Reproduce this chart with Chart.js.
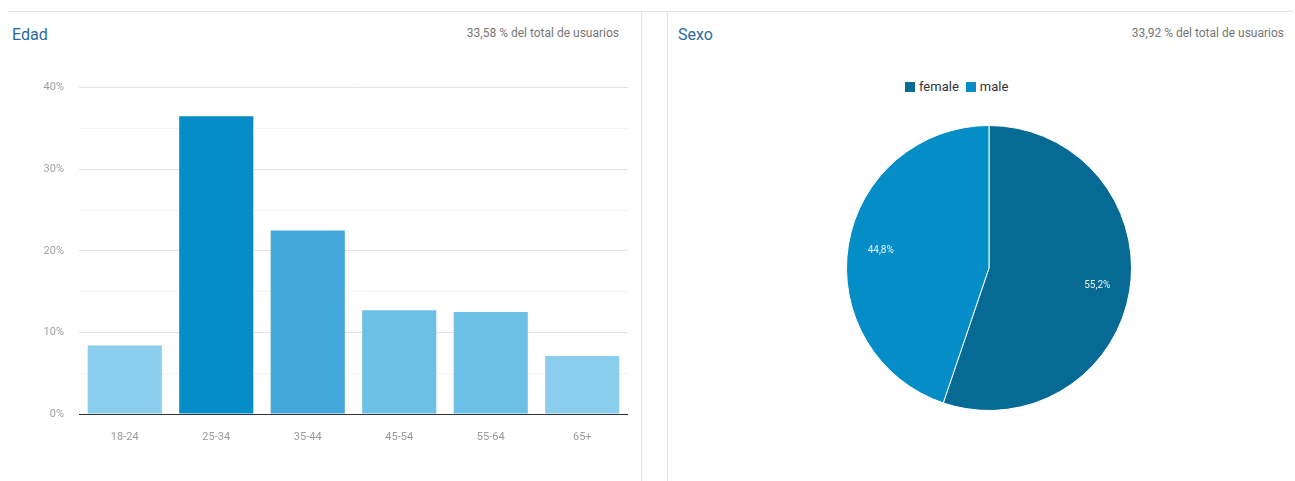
<!DOCTYPE html>
<html>
<head>
<meta charset="utf-8">
<script src="https://cdn.jsdelivr.net/npm/chart.js@4/dist/chart.umd.min.js"></script>
<style>
  body { margin: 0; background: #fff; font-family: Roboto, "Noto Sans", sans-serif; }
  #page { position: relative; width: 1295px; height: 481px; overflow: hidden; }
  .rule-h { position: absolute; left: 9px; top: 11px; width: 1284px; height: 1px; background: #e3e3e3; }
  .rule-v { position: absolute; top: 11px; width: 1px; height: 470px; background: #e3e3e3; }
  .title { position: absolute; top: 25px; font-size: 16px; line-height: 20px; color: #2a6aa3; }
  .share { position: absolute; top: 25px; font-size: 12px; line-height: 16px; color: #777; text-align: right; white-space: nowrap; }
  #ageBox { position: absolute; left: 23px; top: 66px; width: 605px; height: 404px; }
  #sexBox { position: absolute; left: 839px; top: 118px; width: 300px; height: 300px; }
  #sexLegend { position: absolute; left: 905px; top: 79px; font-size: 13px; line-height: 16px; color: #333; white-space: nowrap; }
  #sexLegend span.item { display: inline-block; margin-right: 7px; }
  #sexLegend span.box { display: inline-block; width: 10px; height: 10px; margin-right: 4px; vertical-align: -1px; }
</style>
</head>
<body>
<div id="page">
  <div class="rule-h"></div>
  <div class="rule-v" style="left:641px"></div>
  <div class="rule-v" style="left:667px"></div>

  <div class="title" style="left:12px">Edad</div>
  <div class="share" style="left:300px;width:319px">33,58 % del total de usuarios</div>
  <div id="ageBox"><canvas id="ageChart"></canvas></div>

  <div class="title" style="left:678px">Sexo</div>
  <div class="share" style="left:964px;width:320px">33,92 % del total de usuarios</div>
  <div id="sexLegend"></div>
  <div id="sexBox"><canvas id="sexChart"></canvas></div>
</div>

<script>
// data
var ageLabels = ['18-24', '25-34', '35-44', '45-54', '55-64', '65+'];
var agePercent = [8.4, 36.5, 22.5, 12.7, 12.5, 7.1];

var sexLabels = ['female', 'male'];
var sexPercent = [55.2, 44.8];

// palette
var ageColors = ['#8bcdec', '#058dc7', '#43a9da', '#6cbfe5', '#6cbfe5', '#8bcdec'];
var sexColors = ['#066a95', '#058dc7'];

Chart.defaults.font.family = 'Roboto, "Noto Sans", sans-serif';
Chart.defaults.animation = false;

new Chart(document.getElementById('ageChart'), {
  type: 'bar',
  data: {
    labels: ageLabels,
    datasets: [{
      data: agePercent,
      backgroundColor: ageColors,
      barPercentage: 0.81,
      categoryPercentage: 1
    }]
  },
  options: {
    responsive: true,
    maintainAspectRatio: false,
    layout: { padding: { top: 13, right: 0, bottom: 0, left: 0 } },
    plugins: { legend: { display: false }, tooltip: { enabled: false } },
    scales: {
      x: {
        grid: { display: false, drawTicks: false },
        border: { display: true, color: '#333', width: 1 },
        ticks: { color: '#999', font: { size: 11 }, padding: 17 },
        afterFit: function(scale) { scale.height = 56; }
      },
      y: {
        min: 0,
        max: 40,
        border: { display: false },
        grid: {
          drawTicks: false,
          color: function(ctx) { return ctx.tick && ctx.tick.value % 10 === 0 ? '#e4e4e4' : '#f3f3f3'; }
        },
        ticks: {
          stepSize: 5,
          color: '#a0a0a0',
          font: { size: 11 },
          padding: 15,
          callback: function(v) { return v % 10 === 0 ? v + '%' : ''; }
        },
        afterFit: function(scale) { scale.width = 56; }
      }
    }
  }
});

// percent labels inside the slices
var sliceLabels = {
  id: 'sliceLabels',
  afterDatasetsDraw: function(chart) {
    var ctx = chart.ctx;
    var meta = chart.getDatasetMeta(0);
    ctx.save();
    ctx.font = '10px Roboto, "Noto Sans", sans-serif';
    ctx.fillStyle = '#e8f3f9';
    ctx.textAlign = 'center';
    ctx.textBaseline = 'middle';
    meta.data.forEach(function(arc, i) {
      var p = arc.getProps(['x', 'y', 'startAngle', 'endAngle', 'outerRadius'], true);
      var mid = (p.startAngle + p.endAngle) / 2;
      var r = p.outerRadius * 0.77;
      var txt = sexPercent[i].toFixed(1).replace('.', ',') + '%';
      ctx.fillText(txt, p.x + Math.cos(mid) * r, p.y + Math.sin(mid) * r);
    });
    ctx.restore();
  }
};

var sexChart = new Chart(document.getElementById('sexChart'), {
  type: 'pie',
  data: {
    labels: sexLabels,
    datasets: [{
      data: sexPercent,
      backgroundColor: sexColors,
      borderColor: '#ffffff',
      borderWidth: 1
    }]
  },
  options: {
    responsive: true,
    maintainAspectRatio: false,
    layout: { padding: 7 },
    plugins: { legend: { display: false }, tooltip: { enabled: false } }
  },
  plugins: [sliceLabels]
});

// html legend from the chart's own legend items
var items = sexChart.options.plugins.legend.labels.generateLabels(sexChart);
var legendBox = document.getElementById('sexLegend');
items.forEach(function(it) {
  var item = document.createElement('span');
  item.className = 'item';
  var box = document.createElement('span');
  box.className = 'box';
  box.style.background = it.fillStyle;
  item.appendChild(box);
  item.appendChild(document.createTextNode(it.text));
  legendBox.appendChild(item);
});
</script>
</body>
</html>
